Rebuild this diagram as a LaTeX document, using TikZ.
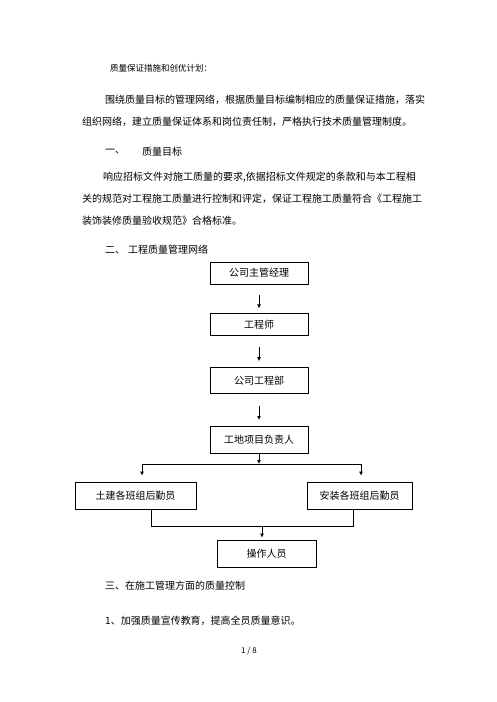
\documentclass[tikz,border=0pt]{standalone}
\usepackage{fontspec}
\setmainfont{Noto Sans CJK SC}
\usetikzlibrary{positioning,arrows.meta}
\XeTeXlinebreaklocale "zh"
\XeTeXlinebreakskip=0pt plus 1fil
\tikzset{box/.style={draw,line width=0.8pt,inner sep=0pt,minimum width=98pt,minimum height=22pt,font=\fontsize{10}{12}\selectfont},
	 txt/.style={anchor=west,inner sep=0pt,font=\fontsize{10}{12}\selectfont},
	 flow/.style={line width=0.8pt,-{Latex[length=4pt,width=4pt]}},
	 node distance = 29pt
	 }

\begin{document}
\begin{tikzpicture}[x=1pt,y=-1pt] % quality network
	\useasboundingbox (0,0) rectangle (496,702);
	\node[txt,font=\fontsize{8.5}{10}\selectfont] (title) at (110,68) {质量保证措施和创优计划：};
	\node[txt] (p1a) at (105,100) {\makebox[323pt][s]{围绕质量目标的管理网络，根据质量目标编制相应的质量保证措施，落实}};
	\node[txt] (p1b) at (82,122) {组织网络，建立质量保证体系和岗位责任制，严格执行技术质量管理制度。};
	\node[txt] (h1a) at (105,152) {一、};
	\node[txt] (h1b) at (142,152) {质量目标};
	\node[txt] (p2a) at (103,177) {\makebox[325pt][s]{响应招标文件对施工质量的要求,依据招标文件规定的条款和与本工程相}};
	\node[txt] (p2b) at (82,199) {\makebox[346pt][s]{关的规范对工程施工质量进行控制和评定，保证工程施工质量符合《工程施工}};
	\node[txt] (p2c) at (82,221) {装饰装修质量验收规范》合格标准。};
	\node[txt] (h2) at (105,250) {二、\hspace{3pt}工程质量管理网络};
	% chart
	\node[box] (mgr) at (259,273) {公司主管经理};
	\node[box] (eng) [below= of mgr] {工程师};
	\node[box,minimum height=26pt] (dept) [below=31pt of eng] {公司工程部};
	\node[box,minimum height=27pt] (site) [below=32pt of dept] {工地项目负责人};
	\node[box,minimum width=121pt,minimum height=27pt] (civil) at (135.5,495.5) {土建各班组后勤员};
	\node[box,minimum width=105pt,minimum height=27pt] (inst) at (359.5,495.5) {安装各班组后勤员};
	\node[box,minimum width=99pt,minimum height=27pt] (ops) at (266.5,553.5) {操作人员};
	\draw[flow,shorten <=11pt,shorten >=5pt] (mgr) to (eng);
	\draw[flow,shorten <=11pt,shorten >=6pt] (eng) to (dept);
	\draw[flow,shorten <=12pt,shorten >=6pt] (dept) to (site);
	\coordinate (split) at (site.south |- 0,464);
	\coordinate (jl) at (142,464);
	\coordinate (jr) at (361,464);
	\draw[flow] (site.south) to (split);
	\draw[line width=0.8pt] (jl) to (jr);
	\draw[flow,shorten >=6pt] (jl) to (jl |- civil.north);
	\draw[flow,shorten >=6pt] (jr) to (jr |- inst.north);
	\coordinate (ml) at (151,526);
	\coordinate (mr) at (353,526);
	\coordinate (merge) at (262,526);
	\draw[line width=0.8pt] (civil.south -| ml) to (ml) to (mr) to (inst.south -| mr);
	\draw[flow,shorten >=2pt] (merge) to (merge |- ops.north);
	% text below
	\node[txt] (h3) at (105,586) {三、在施工管理方面的质量控制};
	\node[txt] (l1) at (105,621) {1、加强质量宣传教育，提高全员质量意识。};
	\node[font=\fontsize{8}{10}\selectfont,inner sep=0pt] (pg) at (249,651) {1 / 8};
\end{tikzpicture}
\end{document}
